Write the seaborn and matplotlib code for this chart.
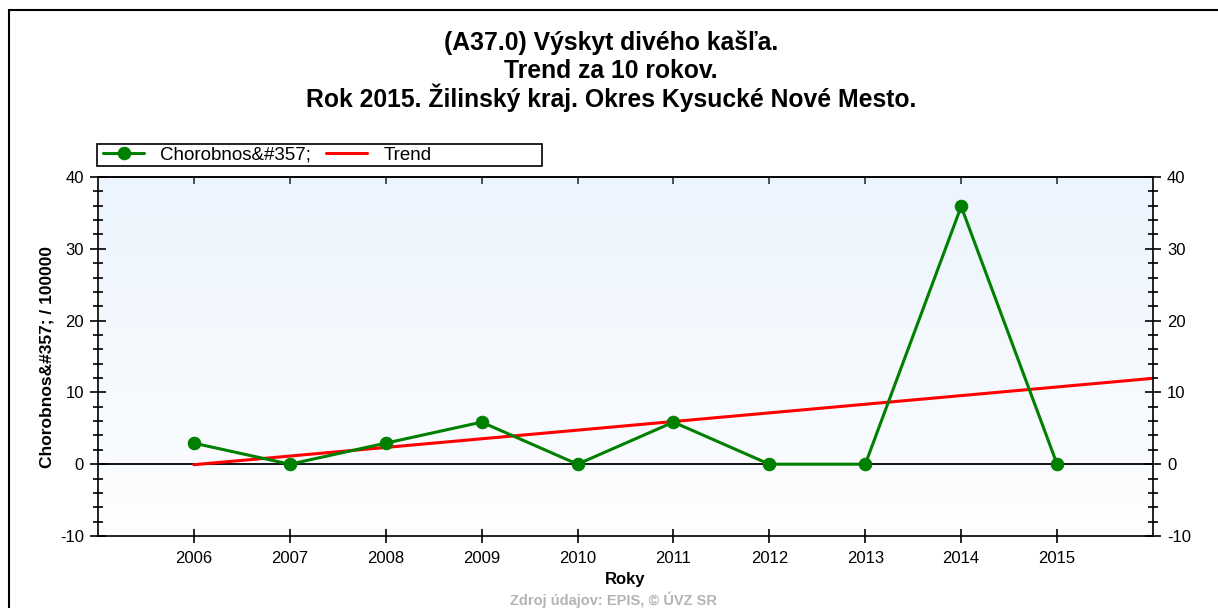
import numpy as np
import matplotlib
matplotlib.use("Agg")
import matplotlib.pyplot as plt
import seaborn as sns
from matplotlib.colors import LinearSegmentedColormap
from matplotlib.ticker import MultipleLocator
from matplotlib.patches import Rectangle

# data
years = [2006, 2007, 2008, 2009, 2010, 2011, 2012, 2013, 2014, 2015]
incidence = [2.93, 0, 2.93, 5.86, 0, 5.86, 0, 0, 35.9, 0]
trend_years = [2006, 2016]
trend_values = [-0.07, 11.96]

title_lines = ["(A37.0) Výskyt divého kašľa.",
               "Trend za 10 rokov.",
               "Rok 2015. Žilinský kraj. Okres Kysucké Nové Mesto."]

sns.set_theme(style="white")
plt.rcParams['font.family'] = ['Liberation Sans', 'DejaVu Sans']
plt.rcParams['axes.unicode_minus'] = False
plt.rcParams['text.color'] = 'black'
plt.rcParams['axes.labelcolor'] = 'black'

W, H = 1218, 608
fig = plt.figure(figsize=(W / 100, H / 100), dpi=100)
ax = fig.add_axes([98 / W, 1 - 536 / H, (1153 - 98) / W, (536 - 177) / H])

# light blue gradient background of the plot area
grad = LinearSegmentedColormap.from_list("bg", ["#FDFEFF", "#ECF4FD"])
ax.imshow(np.linspace(0, 1, 256).reshape(-1, 1), cmap=grad, aspect='auto',
          extent=[2005, 2016, -10, 40], origin='lower', zorder=0)

ax.axhline(0, color='black', lw=1.3, zorder=1)

sns.lineplot(x=years, y=incidence, marker='o', color='#008000', lw=2.2,
             markersize=9, markeredgecolor='#008000', label="Chorobnos&#357;",
             ax=ax, zorder=3)
sns.lineplot(x=trend_years, y=trend_values, color='#FF0000', lw=2.2,
             label="Trend", ax=ax, zorder=2)

ax.set_xlim(2005, 2016)
ax.set_ylim(-10, 40)
ax.set_xticks(years)
ax.set_xticklabels([str(y) for y in years])
ax.set_yticks(range(-10, 41, 10))
ax.yaxis.set_minor_locator(MultipleLocator(2))

for s in ax.spines.values():
    s.set_color('black')
    s.set_linewidth(1.2)

ax.tick_params(axis='y', which='major', left=True, right=True, labelleft=True,
               labelright=True, direction='inout', length=12, width=1.2,
               labelsize=12, colors='black', pad=4)
ax.tick_params(axis='y', which='minor', left=True, right=True,
               direction='inout', length=7, width=1.2, colors='black')
ax.tick_params(axis='x', bottom=True, direction='inout', length=10, width=1.2,
               labelsize=12, colors='black', pad=6)

top = ax.secondary_xaxis('top')
top.set_xticks(years)
top.set_xticklabels([])
top.tick_params(direction='in', length=5, width=1.2, colors='#333333')

ax.set_xlabel("Roky", fontweight='bold', fontsize=12, labelpad=4)
ax.set_ylabel("Chorobnos&#357; / 100000", fontweight='bold', fontsize=12.5,
              labelpad=4)

leg = ax.legend(loc='center left', ncol=2,
                bbox_to_anchor=(103 / W, 1 - 155 / H),
                bbox_transform=fig.transFigure, frameon=False,
                handlelength=2.2, handletextpad=0.85, columnspacing=0.8,
                fontsize=13.5, borderpad=0, borderaxespad=0)

# legend box
fig.add_artist(Rectangle((97 / W, 1 - 166 / H), 445 / W, 22 / H,
                         transform=fig.transFigure, fill=False,
                         edgecolor='black', lw=1.2))

for i, line in enumerate(title_lines):
    fig.text(611 / W, 1 - (43 + 27.5 * i) / H, line, ha='center', va='center',
             fontsize=17.8, fontweight='bold')

fig.text(613 / W, 1 - 592 / H, "Zdroj údajov: EPIS, © ÚVZ SR", ha='center',
         va='top', fontsize=10.5, fontweight='bold', color='#b4b4b4')

# outer frame of the picture (left and top edges visible)
fig.add_artist(Rectangle((9 / W, -0.1), 2, 1.1 - 10 / H,
                         transform=fig.transFigure, fill=False,
                         edgecolor='black', lw=1.5))

plt.savefig("out.png", dpi=100)
